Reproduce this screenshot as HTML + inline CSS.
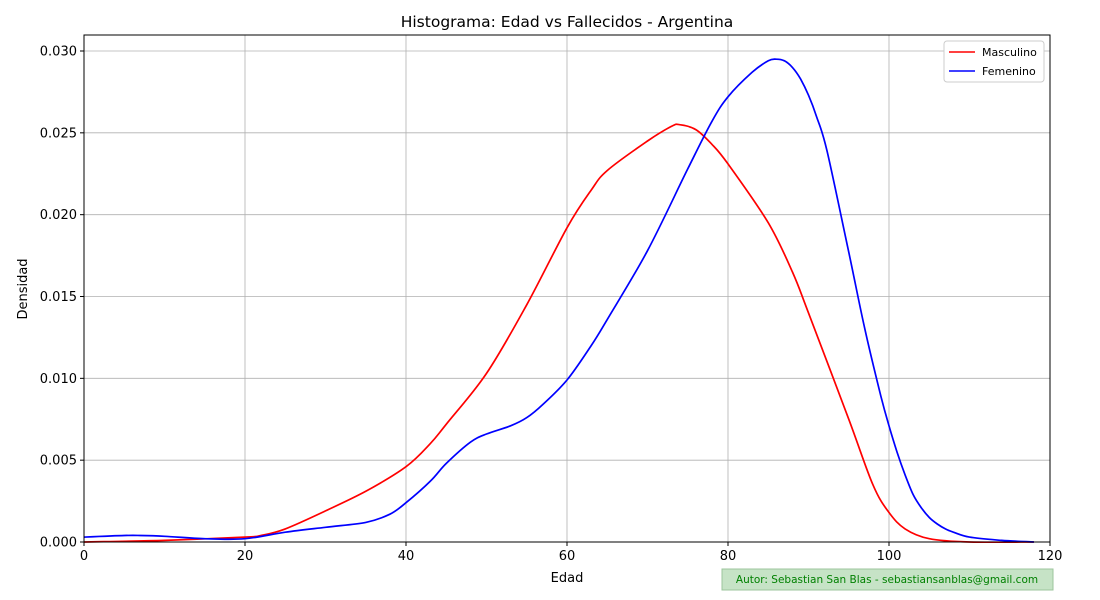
<!DOCTYPE html>
<html><head><meta charset="utf-8"><style>
html,body{margin:0;padding:0;background:#fff;}
svg{display:block;font-family:"DejaVu Sans","Liberation Sans",sans-serif;}
</style></head><body>
<svg id="chart" width="1100" height="600">
<rect x="0" y="0" width="1100" height="600" fill="#fff"/>
<g id="grid"></g>
<g id="series"></g>
<rect x="84" y="35" width="966" height="507" fill="none" stroke="#000" stroke-width="1"/>
<g id="axes"></g>
<text x="567" y="27" text-anchor="middle" font-size="15.5">Histograma: Edad vs Fallecidos - Argentina</text>
<text x="567" y="582" text-anchor="middle" font-size="13">Edad</text>
<text x="27" y="289" text-anchor="middle" font-size="13" transform="rotate(-90 27 289)">Densidad</text>
<g>
<rect x="944" y="41" width="100" height="41" rx="3" fill="#fff" stroke="#ccc"/>
<line x1="949" y1="52" x2="975" y2="52" stroke="#ff0000" stroke-width="1.6"/>
<text x="982" y="56" font-size="11">Masculino</text>
<line x1="949" y1="71" x2="975" y2="71" stroke="#0000ff" stroke-width="1.6"/>
<text x="982" y="75" font-size="11">Femenino</text>
</g>
<g>
<rect x="722" y="569" width="331" height="21" fill="#c6e3c6" stroke="#9cc69c"/>
<text x="887" y="583" text-anchor="middle" font-size="10.5" fill="#008000">Autor: Sebastian San Blas - sebastiansanblas@gmail.com</text>
</g>
</svg>
<script>
const ages = [0,10,20,22,25,30,35,40,43,45,50,55,60,63,65,70,73,74,76,78,80,85,88,90,95,98,100,102,105,110,118];
const masculino = [0,0.0001,0.0003,0.0004,0.0008,0.0019,0.0031,0.0046,0.006,0.0072,0.0103,0.0145,0.0192,0.0215,0.0227,0.0245,0.0254,0.0255,0.0252,0.0243,0.0231,0.0195,0.0165,0.014,0.0075,0.0035,0.0018,0.0008,0.0002,0,0];
const agesF = [0,5,7,10,15,20,25,30,35,38,40,43,45,48,50,53,55,57,60,63,65,70,75,78,80,83,85,86,87,88,89,90,91,92.3,95,97,99,100,101,102,103,104,105,106,107,108,110,114,118];
const femenino = [0.0003,0.0004,0.0004,0.00035,0.0002,0.0002,0.0006,0.0009,0.0012,0.0017,0.0024,0.0037,0.0048,0.0061,0.0066,0.0071,0.0076,0.0084,0.0099,0.012,0.0136,0.0178,0.0228,0.0257,0.0272,0.0287,0.0294,0.0295,0.0294,0.029,0.0283,0.0273,0.0260,0.0239,0.0177,0.0130,0.0089,0.0071,0.0055,0.0041,0.0029,0.0021,0.0015,0.0011,0.0008,0.0006,0.0003,0.0001,0];
const xTicks = [0,20,40,60,80,100,120];
const yTicks = [0,0.005,0.010,0.015,0.020,0.025,0.030];
const yTickLabels = ["0.000","0.005","0.010","0.015","0.020","0.025","0.030"];

const X0=84,X1=1050,Y0=542,Y1=51;
const xs = v => X0 + (v/120)*(X1-X0);
const ys = v => Y0 - (v/0.030)*(Y0-Y1);
const NS="http://www.w3.org/2000/svg";
const grid=document.getElementById('grid'), axes=document.getElementById('axes'), ser=document.getElementById('series');
function mk(tag,attrs,parent){const e=document.createElementNS(NS,tag);for(const k in attrs)e.setAttribute(k,attrs[k]);parent.appendChild(e);return e;}
xTicks.forEach(t=>{
  const x=xs(t);
  const g=mk('line',{x1:x,x2:x,y1:35,y2:542,stroke:'#b0b0b0','stroke-width':0.8},grid);
  
  
  mk('line',{x1:x,x2:x,y1:542,y2:546,stroke:'#000'},axes);
  const l=mk('text',{x:x,y:560,'text-anchor':'middle','font-size':13},axes);
  l.textContent=t;
  
  
});
yTicks.forEach((t,i)=>{
  const y=ys(t);
  const g=mk('line',{x1:84,x2:1050,y1:y,y2:y,stroke:'#b0b0b0','stroke-width':0.8},grid);
  
  
  mk('line',{x1:80,x2:84,y1:y,y2:y,stroke:'#000'},axes);
  const l=mk('text',{x:77,y:y+4.5,'text-anchor':'end','font-size':13},axes);
  l.textContent=yTickLabels[i];
  
  
});
function path(xv,yv){
  const P=xv.map((v,i)=>[xs(v),ys(yv[i])]);
  let d='M'+P[0][0].toFixed(1)+','+P[0][1].toFixed(1);
  for(let i=0;i<P.length-1;i++){
    const p0=P[Math.max(0,i-1)],p1=P[i],p2=P[i+1],p3=P[Math.min(P.length-1,i+2)];
    const c1=[p1[0]+(p2[0]-p0[0])/6,p1[1]+(p2[1]-p0[1])/6];
    const c2=[p2[0]-(p3[0]-p1[0])/6,p2[1]-(p3[1]-p1[1])/6];
    d+='C'+c1[0].toFixed(1)+','+c1[1].toFixed(1)+' '+c2[0].toFixed(1)+','+c2[1].toFixed(1)+' '+p2[0].toFixed(1)+','+p2[1].toFixed(1);
  }
  return d;
}
const pm=mk('path',{d:path(ages,masculino),fill:'none',stroke:'#ff0000','stroke-width':1.7,'stroke-linejoin':'round'},ser);


const pf=mk('path',{d:path(agesF,femenino),fill:'none',stroke:'#0000ff','stroke-width':1.7,'stroke-linejoin':'round'},ser);


</script>
</body></html>
